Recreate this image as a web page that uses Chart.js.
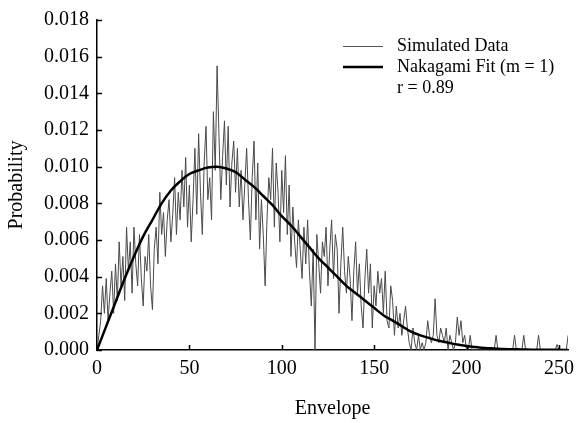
<!DOCTYPE html>
<html>
<head>
<meta charset="utf-8">
<script src="https://cdn.jsdelivr.net/npm/chart.js@4.4.0/dist/chart.umd.min.js"></script>
<style>
html, body { margin: 0; padding: 0; background: #fff; }
#wrap { width: 581px; height: 423px; }
</style>
</head>
<body>
<div id="wrap"><canvas id="chart"></canvas></div>
<script>
// datos simulados: un valor por envolvente 0..255
const simulated = [
  0.0000, 0.0008, 0.0016, 0.0035, 0.0020, 0.0039, 0.0016, 0.0031, 0.0043, 0.0020,
  0.0047, 0.0027, 0.0059, 0.0035, 0.0051, 0.0027, 0.0067, 0.0043, 0.0059, 0.0031,
  0.0067, 0.0047, 0.0035, 0.0063, 0.0039, 0.0024, 0.0051, 0.0043, 0.0063, 0.0035,
  0.0022, 0.0055, 0.0067, 0.0047, 0.0086, 0.0063, 0.0075, 0.0051, 0.0071, 0.0082,
  0.0059, 0.0074, 0.0094, 0.0063, 0.0086, 0.0071, 0.0098, 0.0078, 0.0105, 0.0067,
  0.0090, 0.0059, 0.0082, 0.0110, 0.0074, 0.0118, 0.0086, 0.0063, 0.0102, 0.0122,
  0.0082, 0.0094, 0.0071, 0.0130, 0.0098, 0.0155, 0.0118, 0.0082, 0.0106, 0.0125,
  0.0090, 0.0122, 0.0078, 0.0102, 0.0114, 0.0086, 0.0110, 0.0078, 0.0098, 0.0071,
  0.0090, 0.0110, 0.0082, 0.0060, 0.0094, 0.0114, 0.0071, 0.0102, 0.0055, 0.0082,
  0.0063, 0.0035, 0.0071, 0.0094, 0.0082, 0.0110, 0.0067, 0.0102, 0.0086, 0.0059,
  0.0098, 0.0075, 0.0106, 0.0063, 0.0090, 0.0051, 0.0078, 0.0059, 0.0045, 0.0071,
  0.0055, 0.0039, 0.0067, 0.0047, 0.0071, 0.0043, 0.0024, 0.0055, 0.0000, 0.0063,
  0.0047, 0.0031, 0.0059, 0.0051, 0.0067, 0.0035, 0.0055, 0.0071, 0.0039, 0.0063,
  0.0055, 0.0020, 0.0047, 0.0067, 0.0043, 0.0031, 0.0051, 0.0039, 0.0016, 0.0043,
  0.0059, 0.0031, 0.0047, 0.0024, 0.0012, 0.0039, 0.0055, 0.0031, 0.0047, 0.0012,
  0.0035, 0.0024, 0.0043, 0.0031, 0.0039, 0.0020, 0.0043, 0.0016, 0.0012, 0.0035,
  0.0027, 0.0008, 0.0024, 0.0012, 0.0020, 0.0008, 0.0016, 0.0024, 0.0012, 0.0004,
  0.0000, 0.0012, 0.0004, 0.0000, 0.0008, 0.0000, 0.0004, 0.0000, 0.0004, 0.0016,
  0.0008, 0.0004, 0.0008, 0.0028, 0.0008, 0.0004, 0.0012, 0.0008, 0.0004, 0.0012,
  0.0000, 0.0008, 0.0004, 0.0000, 0.0004, 0.0018, 0.0008, 0.0016, 0.0004, 0.0008,
  0.0000, 0.0000, 0.0008, 0.0000, 0.0000, 0.0000, 0.0000, 0.0000, 0.0000, 0.0000,
  0.0000, 0.0000, 0.0000, 0.0000, 0.0000, 0.0000, 0.0008, 0.0000, 0.0000, 0.0000,
  0.0000, 0.0000, 0.0000, 0.0000, 0.0000, 0.0000, 0.0008, 0.0000, 0.0000, 0.0000,
  0.0000, 0.0008, 0.0000, 0.0000, 0.0000, 0.0000, 0.0000, 0.0000, 0.0000, 0.0008,
  0.0000, 0.0000, 0.0000, 0.0000, 0.0000, 0.0000, 0.0000, 0.0000, 0.0000, 0.0003,
  0.0000, 0.0000, 0.0000, 0.0000, 0.0000, 0.0008
];

// ajuste Nakagami (m = 1), leído cada 5 unidades
const fitX = [0, 5, 10, 15, 20, 25, 30, 35, 40, 45, 50, 55, 60, 65, 70, 75, 80, 85, 90, 95,
  100, 105, 110, 115, 120, 125, 130, 135, 140, 145, 150, 155, 160, 165, 170, 175, 180, 185, 190, 195,
  200, 205, 210, 215, 220, 225, 230, 235, 240, 245, 250, 255];
const fitY = [0, 0.0013, 0.0026, 0.0039, 0.0051, 0.0062, 0.0071, 0.0080, 0.0087, 0.0092,
  0.0096, 0.0098, 0.00995, 0.0100, 0.0099, 0.0097, 0.0093, 0.0089, 0.0084, 0.0079,
  0.0073, 0.0068, 0.0062, 0.0056, 0.0050, 0.0045, 0.0040, 0.0035, 0.0031, 0.0027,
  0.0023, 0.0019, 0.0016, 0.0013, 0.0010, 0.0008, 0.00065, 0.0005, 0.0004, 0.0003,
  0.00022, 0.00016, 0.00011, 0.00008, 0.00005, 0.00004, 0.00003, 0.00002, 0.00001, 0.00001,
  0.00001, 0];

const xTicks = [0, 50, 100, 150, 200, 250];
const yTicks = [0, 0.002, 0.004, 0.006, 0.008, 0.010, 0.012, 0.014, 0.016, 0.018];

const serif = "'Liberation Serif', 'DejaVu Serif', serif";

// marcas de eje hacia adentro y leyenda
const decorPlugin = {
    id: 'decor',
    afterDraw(chart) {
        const ctx = chart.ctx;
        const xs = chart.scales.x;
        const ys = chart.scales.y;
        const area = chart.chartArea;
        ctx.save();
        ctx.strokeStyle = '#000';
        ctx.lineWidth = 1.5;
        ctx.beginPath();
        yTicks.forEach(v => {
            const py = Math.round(ys.getPixelForValue(v)) + 0.5;
            ctx.moveTo(area.left, py);
            ctx.lineTo(area.left + 5, py);
        });
        xTicks.forEach(v => {
            const px = Math.round(xs.getPixelForValue(v)) + 0.5;
            ctx.moveTo(px, area.bottom);
            ctx.lineTo(px, area.bottom - 5);
        });
        ctx.stroke();

        // leyenda
        ctx.font = '18px ' + serif;
        ctx.fillStyle = '#000';
        ctx.textBaseline = 'middle';
        ctx.strokeStyle = '#555';
        ctx.lineWidth = 1;
        ctx.beginPath();
        ctx.moveTo(343, 46.5);
        ctx.lineTo(383, 46.5);
        ctx.stroke();
        ctx.strokeStyle = '#000';
        ctx.lineWidth = 2.5;
        ctx.beginPath();
        ctx.moveTo(343, 67);
        ctx.lineTo(383, 67);
        ctx.stroke();
        ctx.fillText('Simulated Data', 397, 46);
        ctx.fillText('Nakagami Fit (m = 1)', 397, 67);
        ctx.fillText('r = 0.89', 397, 88);
        ctx.restore();
    }
};

new Chart(document.getElementById('chart'), {
    type: 'line',
    data: {
        datasets: [{
            label: 'Simulated Data',
            data: simulated.map((v, i) => ({ x: i, y: v })),
            borderColor: '#4a4a4a',
            borderWidth: 1,
            pointRadius: 0,
            tension: 0,
            order: 2
        }, {
            label: 'Nakagami Fit (m = 1)',
            data: fitX.map((x, i) => ({ x: x, y: fitY[i] })),
            borderColor: '#000',
            borderWidth: 2.5,
            pointRadius: 0,
            tension: 0.4,
            order: 1
        }]
    },
    options: {
        responsive: true,
        maintainAspectRatio: false,
        animation: false,
        layout: { padding: { top: 18, right: 6, left: 0, bottom: 0 } },
        plugins: {
            legend: { display: false },
            tooltip: { enabled: false }
        },
        scales: {
            x: {
                type: 'linear',
                min: 0,
                max: 255,
                afterBuildTicks: s => { s.ticks = xTicks.map(v => ({ value: v })); },
                afterFit: s => { s.height = 73; },
                grid: { display: false, drawTicks: false },
                border: { display: true, color: '#000', width: 1.5 },
                ticks: { color: '#000', padding: 7, maxRotation: 0, font: { family: serif, size: 20 } },
                title: { display: true, text: 'Envelope', color: '#000', font: { family: serif, size: 20 }, padding: { top: 0, bottom: 2 } }
            },
            y: {
                min: 0,
                max: 0.018,
                afterBuildTicks: s => { s.ticks = yTicks.map(v => ({ value: v })); },
                afterFit: s => { s.width = 97; },
                grid: { display: false, drawTicks: false },
                border: { display: true, color: '#000', width: 1.5 },
                ticks: { color: '#000', padding: 8, font: { family: serif, size: 20 }, callback: v => v.toFixed(3) },
                title: { display: true, text: 'Probability', color: '#000', font: { family: serif, size: 20 }, padding: { top: 5, bottom: 0 } }
            }
        }
    },
    plugins: [decorPlugin]
});
</script>
</body>
</html>
